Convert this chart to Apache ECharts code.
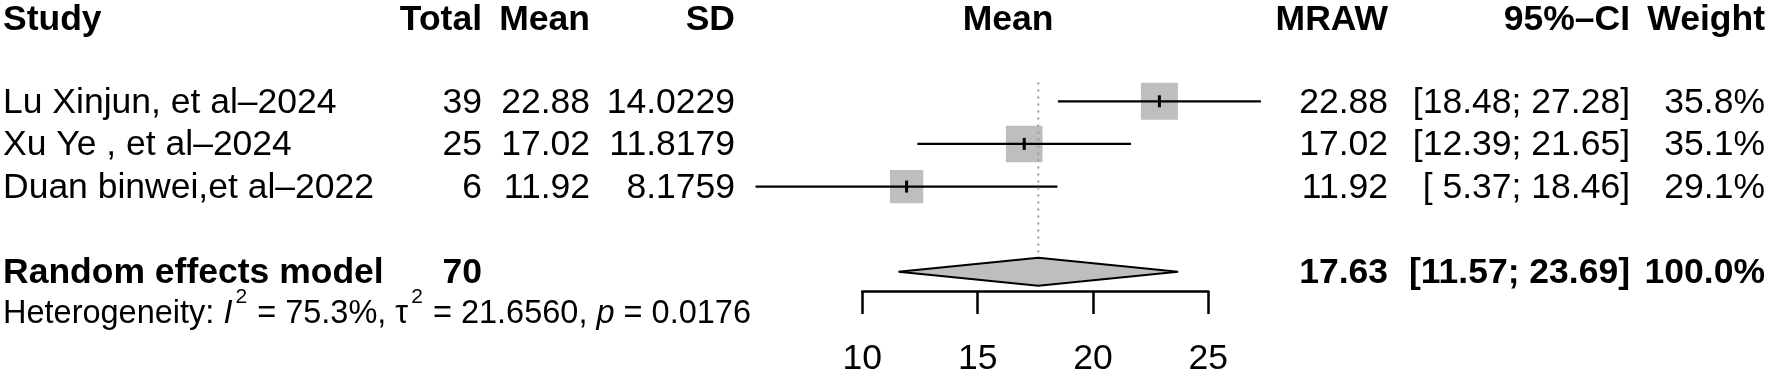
<!DOCTYPE html>
<html>
<head>
<meta charset="utf-8">
<script src="https://cdn.jsdelivr.net/npm/echarts@6/dist/echarts.min.js"></script>
<style>
  html, body { margin: 0; padding: 0; background: #fff; }
  #forest-chart { width: 1772px; height: 377px; }
</style>
</head>
<body>
<div id="forest-chart"></div>
<script>
// study rows
const studies = ['Lu Xinjun, et al–2024', 'Xu Ye , et al–2024', 'Duan binwei,et al–2022'];
const totals = [39, 25, 6];
const means = [22.88, 17.02, 11.92];
const sds = ['14.0229', '11.8179', '8.1759'];
const ciLower = [18.48, 12.39, 5.37];
const ciUpper = [27.28, 21.65, 18.46];
const weights = [35.8, 35.1, 29.1];

// random effects model
const pooledLabel = 'Random effects model';
const pooledTotal = 70;
const pooledMean = 17.63;
const pooledLower = 11.57;
const pooledUpper = 23.69;
const pooledWeight = 100.0;

// heterogeneity
const hetI2 = '75.3%';
const hetTau2 = '21.6560';
const hetP = '0.0176';

const xTicks = [10, 15, 20, 25];
const headers = ['Study', 'Total', 'Mean', 'SD', 'Mean', 'MRAW', '95%–CI', 'Weight'];

const FONT = '"Liberation Sans", Arial, Helvetica, sans-serif';
const FS = 35.5;
const FS_HET = 32.5;
const TEXT_DY = 1.5; // canvas 'middle' sits a bit above cap centre
// right edges of the text columns (px)
const COL = { total: 482, mean: 590, sd: 735, mraw: 1388, ci: 1630, weight: 1765 };

const fmtCI = (lo, hi) => '[' + lo.toFixed(2).padStart(5, ' ') + '; ' + hi.toFixed(2).padStart(5, ' ') + ']';

// rows of the table (k = row position on the hidden y axis)
let tableRows = [];
tableRows.push({ k: -0.95, bold: true, cells: headers });
studies.forEach((s, i) => {
  tableRows.push({
    k: i + 1, bold: false,
    cells: [s, String(totals[i]), means[i].toFixed(2), sds[i], null,
      means[i].toFixed(2), fmtCI(ciLower[i], ciUpper[i]), weights[i].toFixed(1) + '%']
  });
});
tableRows.push({
  k: 5, bold: true,
  cells: [pooledLabel, String(pooledTotal), '', '', null,
    pooledMean.toFixed(2), fmtCI(pooledLower, pooledUpper), pooledWeight.toFixed(1) + '%']
});

const renderTable = (params, api) => {
  let row = tableRows[params.dataIndex];
  let y = api.coord([10, row.k])[1] + TEXT_DY;
  let weight = row.bold ? 'bold' : 'normal';
  let xs = [3, COL.total, COL.mean, COL.sd, 1008, COL.mraw, COL.ci, COL.weight];
  let aligns = ['left', 'right', 'right', 'right', 'center', 'right', 'right', 'right'];
  let children = [];
  row.cells.forEach((t, c) => {
    if (t === null || t === '') return;
    children.push({
      type: 'text',
      style: {
        x: xs[c], y: y, text: t, fill: '#000',
        fontSize: FS, fontFamily: FONT, fontWeight: weight,
        align: aligns[c], verticalAlign: 'middle'
      }
    });
  });
  return { type: 'group', children: children };
};

const renderStudy = (params, api) => {
  let k = api.value(3);
  let lo = api.coord([api.value(0), k]);
  let hi = api.coord([api.value(1), k]);
  let mid = api.coord([api.value(2), k]);
  let side = 37 * Math.sqrt(api.value(4) / Math.max.apply(null, weights));
  return {
    type: 'group',
    children: [
      { type: 'rect', shape: { x: mid[0] - side / 2, y: mid[1] - side / 2, width: side, height: side },
        style: { fill: '#bebebe' } },
      { type: 'line', shape: { x1: lo[0], y1: lo[1], x2: hi[0], y2: hi[1] },
        style: { stroke: '#000', lineWidth: 2.2 } },
      { type: 'line', shape: { x1: mid[0], y1: mid[1] - 6, x2: mid[0], y2: mid[1] + 6 },
        style: { stroke: '#000', lineWidth: 3 } }
    ]
  };
};

const renderDiamond = (params, api) => {
  let k = api.value(3);
  let l = api.coord([api.value(0), k]);
  let r = api.coord([api.value(1), k]);
  let m = api.coord([api.value(2), k]);
  let h = 14;
  return {
    type: 'polygon',
    shape: { points: [[l[0], l[1]], [m[0], m[1] - h], [r[0], r[1]], [m[0], m[1] + h]] },
    style: { fill: '#bebebe', stroke: '#000', lineWidth: 2 }
  };
};

const renderHet = (params, api) => {
  let y = api.coord([10, 5.95])[1] + TEXT_DY;
  return {
    type: 'text',
    style: {
      x: 3, y: y, fill: '#000', align: 'left', verticalAlign: 'middle',
      text: '{n|Heterogeneity: }{i|I}{s|2}{n| = ' + hetI2 + ', τ}{s|2}{n| = ' + hetTau2 + ', }{i|p}{n| = ' + hetP + '}',
      rich: {
        n: { fontSize: FS_HET, fontFamily: FONT, fill: '#000', lineHeight: 54 },
        i: { fontSize: FS_HET, fontFamily: FONT, fontStyle: 'italic', fill: '#000', lineHeight: 54 },
        s: { fontSize: 21, fontFamily: FONT, fill: '#000', verticalAlign: 'top', lineHeight: 24, padding: [0, 1, 0, 3] }
      }
    }
  };
};

let chart = echarts.init(document.getElementById('forest-chart'));
chart.setOption({
  animation: false,
  backgroundColor: '#fff',
  grid: { left: 862.3, width: 346, top: 58.7, height: 234.3 },
  xAxis: {
    type: 'value',
    position: 'bottom',
    min: xTicks[0],
    max: xTicks[xTicks.length - 1],
    interval: xTicks[1] - xTicks[0],
    splitLine: { show: false },
    axisLine: { show: true, onZero: false, lineStyle: { color: '#000', width: 2.5 } },
    axisTick: { show: true, inside: false, length: 23, lineStyle: { color: '#000', width: 2.5 } },
    axisLabel: { show: true, margin: 50, fontSize: FS, fontFamily: FONT, color: '#000' }
  },
  yAxis: {
    type: 'value', inverse: true, min: 0, max: 5.45, show: false
  },
  series: [
    {
      type: 'line',
      data: [[pooledMean, 0.56], [pooledMean, 4.56]],
      symbol: 'none',
      silent: true,
      lineStyle: { color: '#9a9a9a', width: 2, type: [2, 5] }
    },
    {
      type: 'custom',
      renderItem: renderStudy,
      clip: false,
      data: studies.map((s, i) => [ciLower[i], ciUpper[i], means[i], i + 1, weights[i]])
    },
    {
      type: 'custom',
      renderItem: renderDiamond,
      clip: false,
      data: [[pooledLower, pooledUpper, pooledMean, 5]]
    },
    {
      type: 'custom',
      renderItem: renderTable,
      clip: false,
      data: tableRows.map(r => [10, r.k])
    },
    {
      type: 'custom',
      renderItem: renderHet,
      clip: false,
      data: [[10, 5.95]]
    }
  ]
});
</script>
</body>
</html>
